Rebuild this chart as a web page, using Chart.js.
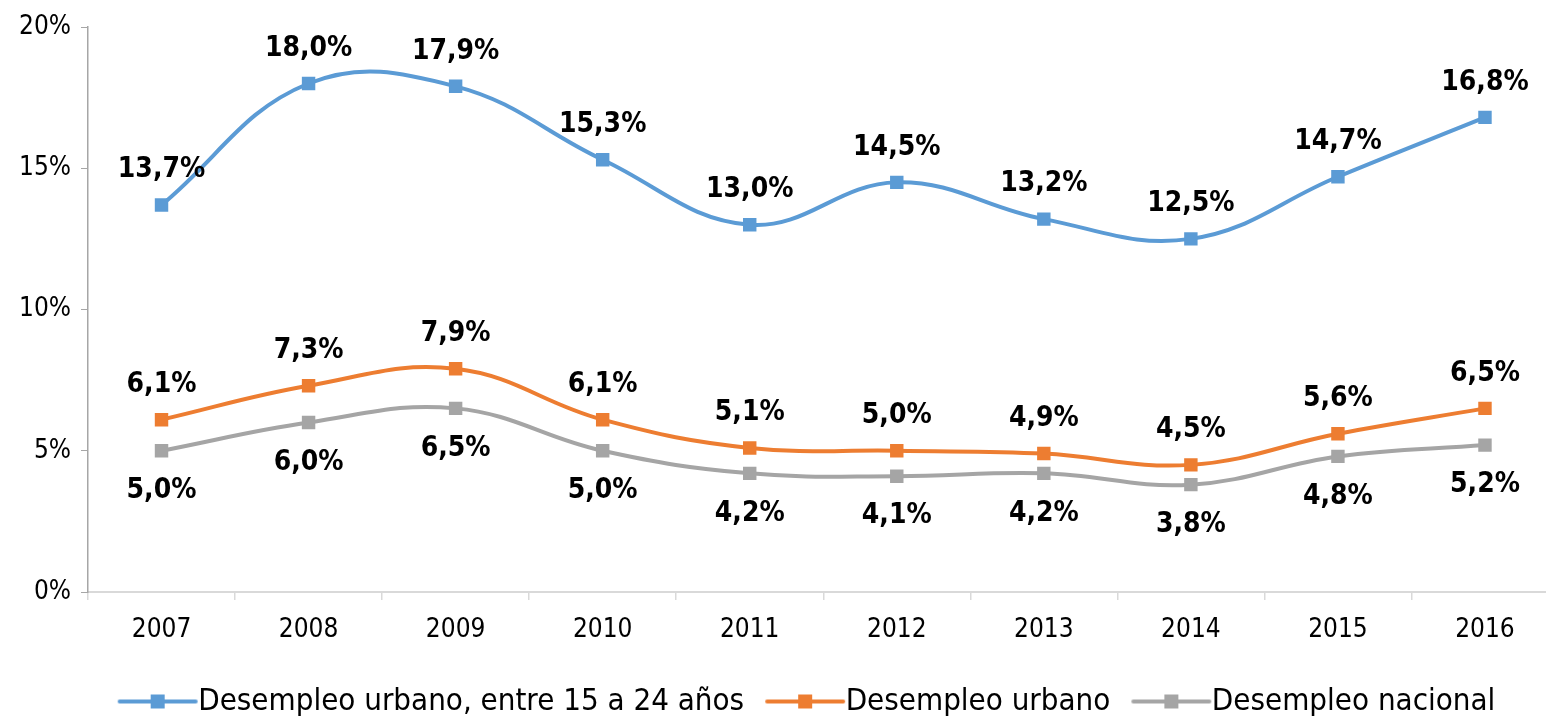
<!DOCTYPE html>
<html>
<head>
<meta charset="utf-8">
<script src="https://cdn.jsdelivr.net/npm/chart.js@4/dist/chart.umd.min.js"></script>
<style>
  html, body { margin: 0; padding: 0; background: #fff; overflow: hidden; }
  #wrap { width: 1568px; height: 717px; }
</style>
</head>
<body>
<div id="wrap"><canvas id="grafico" width="1568" height="717"></canvas></div>
<script>
// datos (porcentajes)
const anios = ["2007", "2008", "2009", "2010", "2011", "2012", "2013", "2014", "2015", "2016"];
const jovenes = [13.7, 18.0, 17.9, 15.3, 13.0, 14.5, 13.2, 12.5, 14.7, 16.8];
const urbano = [6.1, 7.3, 7.9, 6.1, 5.1, 5.0, 4.9, 4.5, 5.6, 6.5];
const nacional = [5.0, 6.0, 6.5, 5.0, 4.2, 4.1, 4.2, 3.8, 4.8, 5.2];
const ticksY = [0, 5, 10, 15, 20];

const FUENTE = "'DejaVu Sans Condensed', 'DejaVu Sans', sans-serif";

// simbolo de leyenda: linea con cuadrado al centro
function simbolo(color) {
  const c = document.createElement("canvas");
  c.width = 96; c.height = 16;
  const g = c.getContext("2d");
  g.strokeStyle = color;
  g.lineWidth = 4;
  g.lineCap = "round";
  g.beginPath();
  g.moveTo(12, 8); g.lineTo(88, 8);
  g.stroke();
  g.fillStyle = color;
  g.fillRect(43, 1, 14, 14);
  return c;
}

function serie(label, data, color, pos) {
  return {
    label, data,
    borderColor: color,
    backgroundColor: color,
    borderWidth: 4,
    tension: 0.4,
    pointStyle: "rect",
    pointRadius: 9.5,
    pointHoverRadius: 9.5,
    pointBorderWidth: 0,
    pointBackgroundColor: color,
    posEtiqueta: pos,
    simbolo: simbolo(color)
  };
}

// etiquetas de datos
const etiquetas = {
  id: "etiquetas",
  afterLayout(chart) {
    // la leyenda va centrada bajo la parte visible del grafico
    chart.legend.left += 56;
  },
  afterDatasetsDraw(chart) {
    const ctx = chart.ctx;
    ctx.save();
    ctx.font = "bold 28px " + FUENTE;
    ctx.fillStyle = "#000";
    ctx.textAlign = "center";
    ctx.textBaseline = "middle";
    chart.data.datasets.forEach((ds, i) => {
      chart.getDatasetMeta(i).data.forEach((p, j) => {
        const txt = ds.data[j].toFixed(1).replace(".", ",") + "%";
        const dy = ds.posEtiqueta === "abajo" ? 40 : -35;
        ctx.fillText(txt, p.x, p.y + dy);
      });
    });
    ctx.restore();
  }
};

new Chart(document.getElementById("grafico"), {
  type: "line",
  data: {
    labels: anios,
    datasets: [
      serie("Desempleo urbano, entre 15 a 24 años", jovenes, "#5B9BD5", "arriba"),
      serie("Desempleo urbano", urbano, "#ED7D31", "arriba"),
      serie("Desempleo nacional", nacional, "#A5A5A5", "abajo")
    ]
  },
  options: {
    responsive: false,
    animation: false,
    devicePixelRatio: 1,
    layout: { padding: { top: 27, left: 0, right: 0, bottom: -10 } },
    plugins: {
      tooltip: { enabled: false },
      legend: {
        position: "bottom",
        labels: {
          usePointStyle: true,
          pointStyleWidth: 54,
          padding: 32,
          color: "#000",
          font: { family: FUENTE, size: 31 },
          generateLabels(chart) {
            return chart.data.datasets.map((ds, i) => ({
              text: ds.label,
              pointStyle: ds.simbolo,
              fillStyle: ds.borderColor,
              strokeStyle: ds.borderColor,
              lineWidth: 0,
              datasetIndex: i,
              hidden: false
            }));
          }
        }
      }
    },
    scales: {
      x: {
        offset: true,
        afterFit(s) { s.height = 62; },
        grid: { offset: true, drawOnChartArea: false, drawTicks: true, tickLength: 8, color: "#D9D9D9", lineWidth: 1.5 },
        border: { color: "#D9D9D9", width: 2 },
        ticks: { color: "#000", padding: 15, font: { family: FUENTE, size: 26 } }
      },
      y: {
        min: 0,
        max: 20,
        afterFit(s) { s.width = 88; },
        afterBuildTicks(s) { s.ticks = ticksY.map(v => ({ value: v })); },
        grid: { drawOnChartArea: false, drawTicks: true, tickLength: 7, color: "#A6A6A6" },
        border: { color: "#A6A6A6", width: 1.5 },
        ticks: { color: "#000", padding: 10, font: { family: FUENTE, size: 26 }, callback: v => v + "%" }
      }
    }
  },
  plugins: [etiquetas]
});
</script>
</body>
</html>
